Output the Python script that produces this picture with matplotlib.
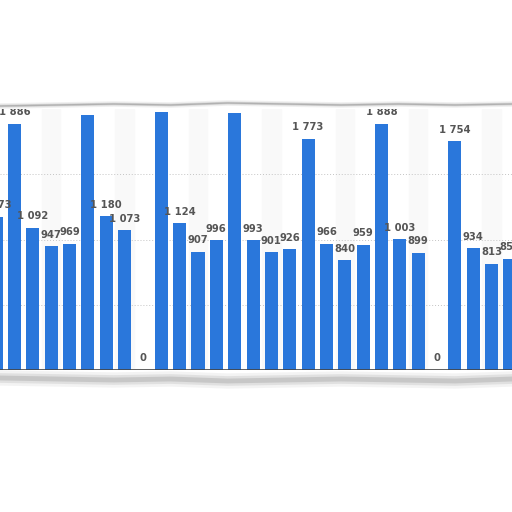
import numpy as np
import matplotlib
matplotlib.use('Agg')
import matplotlib.pyplot as plt

# values (the three tallest bars have their labels hidden by the torn edge)
values = [1173, 1886, 1092, 947, 969, 1955, 1180, 1073, 0,
          1978, 1124, 907, 996, 1970, 993, 901, 926, 1773,
          966, 840, 959, 1888, 1003, 899, 0, 1754, 934, 813, 851]
gridlines = [500, 1000, 1500]

def fmt(v):
    return '{:,}'.format(v).replace(',', ' ')

fig = plt.figure(figsize=(5.12, 5.12), dpi=100)
ax = fig.add_axes([0, 142 / 512, 1, 261 / 512])

x = np.arange(len(values))
# faint column bands every fourth slot
for i in x[3::4]:
    ax.axvspan(i - 0.5, i + 0.5, color='#f9f9f9', zorder=0)

ax.bar(x, values, width=0.71, color='#2a77db', zorder=2)
for v in gridlines:
    ax.axhline(v, color='#c4c4c4', lw=0.7, ls=(0, (1, 2)), zorder=1)
ax.axhline(0, color='#444444', lw=1.2, zorder=3)

for i, v in zip(x, values):
    ax.text(i, v + 50, fmt(v), ha='center', va='bottom', fontsize=7.2,
            fontweight='bold', color='#555555', zorder=4, clip_on=True)

ax.set_xlim(0.21, 28.11)
ax.set_ylim(0, 2001)
ax.axis('off')

# torn paper edges
top_y = np.array([406, 407, 408, 407, 409, 408, 407, 408, 407, 408]) / 512
bot_y = np.array([134, 133, 132, 133, 131, 132, 133, 132, 131, 133]) / 512
ex = np.linspace(0, 1, len(top_y))
for lw, a in [(4, 0.15), (2, 0.3), (1, 0.6)]:
    fig.add_artist(plt.Line2D(ex, top_y, color='#9a9a9a', lw=lw, alpha=a))
for lw, a in [(11, 0.1), (7, 0.18), (3.5, 0.3)]:
    fig.add_artist(plt.Line2D(ex, bot_y, color='#8f8f8f', lw=lw, alpha=a))

fig.savefig('out.png', dpi=100, facecolor='white')
